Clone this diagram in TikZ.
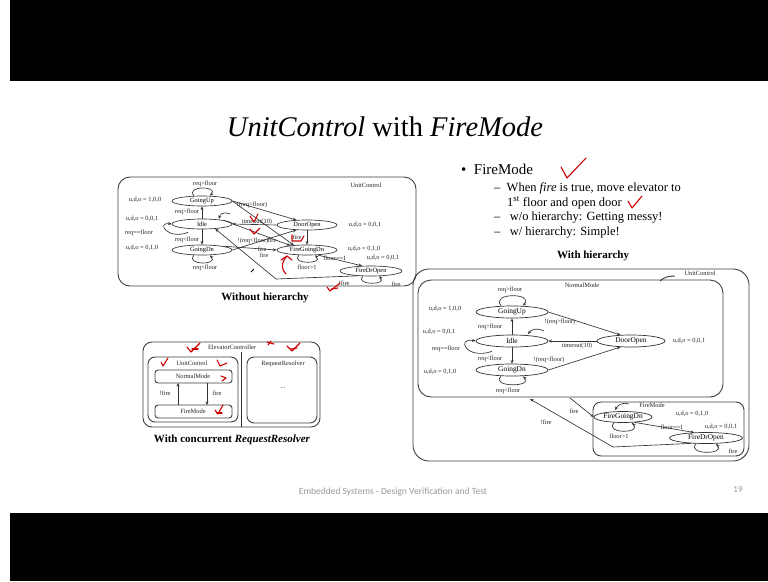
\documentclass[tikz,border=0pt]{standalone}
\usepackage{fontspec}
\setmainfont{Liberation Serif}
\newfontfamily\footfont{Carlito}
\usetikzlibrary{shapes.geometric,arrows.meta}
\begin{document}
\begin{tikzpicture}[x=1pt,y=-1pt,
  ln/.style={draw=black!80,line width=0.65pt},
  arr/.style={ln,-{Stealth[length=3.6pt,width=3pt]}},
  stL/.style={draw=black!80,line width=0.65pt,ellipse,inner sep=0pt,minimum width=60pt,minimum height=10pt,font=\fontsize{6.4}{7}\selectfont},
  stR/.style={draw=black!80,line width=0.7pt,ellipse,inner sep=0pt,minimum width=72pt,minimum height=12pt,font=\fontsize{7.4}{8}\selectfont},
  lbl/.style={inner sep=0pt,font=\fontsize{6.4}{7}\selectfont,text=black!85},
  boxln/.style={draw=black!75,line width=0.9pt},
  redmark/.style={draw=red!80!black,line width=1.1pt,line cap=round,line join=round},
  captxt/.style={inner sep=0pt,font=\fontsize{11}{12}\selectfont\bfseries}]
\useasboundingbox (0,0) rectangle (768,581);
\fill[white] (0,0) rectangle (768,581);
\fill[black] (10,0) rectangle (768,81);
\fill[black] (10,513) rectangle (768,581);
% title
\node[inner sep=0pt,font=\fontsize{28.5}{30}\selectfont] (title) at (385,127) {\textit{UnitControl} with \textit{FireMode}};
% bullets
\node[inner sep=0pt,anchor=west,font=\fontsize{15}{16}\selectfont] (b1) at (461,169) {\textbullet\ \ FireMode};
\node[inner sep=0pt,anchor=west,font=\fontsize{12.5}{13}\selectfont] (b2) at (494,188) {\textendash\ \ When \textit{fire} is true, move elevator to};
\node[inner sep=0pt,anchor=west,font=\fontsize{12.5}{13}\selectfont] (b3) at (507,203) {1\textsuperscript{st} floor and open door};
\node[inner sep=0pt,anchor=west,font=\fontsize{12.5}{13}\selectfont] (b4) at (494,218) {\textendash\ \ \ w/o hierarchy: Getting messy!};
\node[inner sep=0pt,anchor=west,font=\fontsize{12.5}{13}\selectfont] (b5) at (494,233) {\textendash\ \ \ w/ hierarchy: Simple!};
\node[captxt] (capR) at (593,256) {With hierarchy};
% ================= left: without hierarchy =================
\draw[boxln,rounded corners=12pt] (118,177) rectangle (416,286);
\node[lbl] (lUC) at (366,185) {UnitControl};
\node[stL] (LU) at (202,201) {GoingUp};
\node[stL] (LI) at (202,224) {Idle};
\node[stL] (LD) at (202,250) {GoingDn};
\node[stL] (LO) at (307,225) {DoorOpen};
\node[stL] (LF) at (307,250) {FireGoingDn};
\node[stL,minimum width=62pt] (LR) at (371,271) {FireDrOpen};
% self loops
\draw[arr] ([xshift=-8pt]LU.north) .. controls +(-9,-10) and +(9,-10) .. ([xshift=8pt]LU.north);
\draw[arr] ([xshift=-8pt]LD.south) .. controls +(-9,10) and +(9,10) .. ([xshift=8pt]LD.south);
\draw[arr] ([xshift=-14pt,yshift=-3pt]LI.south) .. controls +(-20,8) and +(-16,-2) .. (LI.west);
\draw[arr] ([xshift=-8pt]LF.south) .. controls +(-9,9) and +(9,9) .. ([xshift=8pt]LF.south);
\draw[arr] ([xshift=-8pt]LR.south) .. controls +(-9,9) and +(9,9) .. ([xshift=8pt]LR.south);
\draw[arr] (LI) -- (LU);
\draw[arr] (LI) -- (LD);
\draw[arr] (LU.east) -- (LO.155);
\draw[arr] (LU.east) -- (LF.160);
\draw[arr] (LO.west) -- (LI.east);
\draw[arr] (LI.10) -- (LF.165);
\draw[arr] (LD.east) -- (LO.205);
\draw[arr] (LD.10) -- (LF.180);
\draw[arr] (LO) -- (LF);
\draw[arr] (LF.-25) -- (LR.150);
\coordinate (lbend) at (276,279);
\draw[arr] (LR.200) -- (lbend) -- (LI.-20);
% default arrow into idle
\draw[arr] (230,214) .. controls (222,211) and (220,215) .. (219,219);
% labels
\node[lbl] at (205,184) {req>floor};
\node[lbl] at (145,200) {u,d,o = 1,0,0};
\node[lbl] at (187,212) {req>floor};
\node[lbl] at (142,219) {u,d,o = 0,0,1};
\node[lbl] at (139,233) {req==floor};
\node[lbl] at (187,240) {req<floor};
\node[lbl] at (142,248) {u,d,o = 0,1,0};
\node[lbl] at (205,268) {req<floor};
\node[lbl] at (252,205) {!(req>floor)};
\node[lbl] at (257,222) {timeout(10)};
\node[lbl] at (253,241) {!(req<floor)};
\node[lbl] at (365,225) {u,d,o = 0,0,1};
\node[lbl] at (297,237) {fire};
\node[lbl] at (272,240) {fire};
\node[lbl] at (262,249) {fire};
\node[lbl] at (264,255) {fire};
\node[lbl] at (364,249) {u,d,o = 0,1,0};
\node[lbl] at (335,258) {floor==1};
\node[lbl] at (383,258) {u,d,o = 0,0,1};
\node[lbl] at (307,267) {floor>1};
\node[lbl] at (344,283) {!fire};
\node[lbl] at (396,284) {fire};
\node[captxt] (capL) at (265,298) {Without hierarchy};
% ================= bottom left: concurrent =================
\draw[boxln,rounded corners=9pt] (143,342) rectangle (320,427);
\node[lbl] (lEC) at (232,347) {ElevatorController};
\draw[ln] (241,352) -- (241,427);
\draw[boxln,rounded corners=7pt] (148,357) rectangle (238,422);
\node[lbl] (lUC2) at (192,363) {UnitControl};
\draw[boxln,rounded corners=3pt] (155,370) rectangle (232,383);
\node[lbl] (NM) at (193,376) {NormalMode};
\draw[boxln,rounded corners=3pt] (155,405) rectangle (232,418);
\node[lbl] (FM) at (193,411) {FireMode};
\coordinate (fa1) at (178,405); \coordinate (fa2) at (178,383);
\coordinate (fb1) at (207,383); \coordinate (fb2) at (207,405);
\draw[arr] (fa1) -- (fa2);
\draw[arr] (fb1) -- (fb2);
\node[lbl] at (165,393) {!fire};
\node[lbl] at (217,393) {fire};
\draw[boxln,rounded corners=7pt] (247,357) rectangle (317,423);
\node[lbl] (RRes) at (283,364) {RequestResolver};
\node[lbl] at (283,388) {...};
\node[captxt] (capC) at (232,440) {With concurrent \textit{RequestResolver}};
% ================= right: with hierarchy =================
\draw[boxln,rounded corners=16pt] (413,269) rectangle (749,461);
\node[lbl] (rUC) at (700,273) {UnitControl};
\draw[ln,line width=0.9pt] (660,281) .. controls (664,277) and (669,276) .. (675,276);
\draw[boxln,rounded corners=13pt] (418,280) rectangle (723,397);
\node[lbl] (rNM) at (582,285) {NormalMode};
\draw[boxln,rounded corners=8pt] (593,402) rectangle (744,456);
\node[lbl] (rFM) at (652,405) {FireMode};
\node[stR] (RU) at (512,312) {GoingUp};
\node[stR] (RI) at (512,341) {Idle};
\node[stR] (RD) at (512,370) {GoingDn};
\node[stR,minimum width=68pt] (RO) at (631,341) {DoorOpen};
\node[stR,minimum width=58pt,minimum height=11pt] (RF) at (623,417) {FireGoingDn};
\node[stR,minimum width=73pt,minimum height=11pt] (RR) at (706,438) {FireDrOpen};
\draw[arr] ([xshift=-11pt]RU.north) .. controls +(-11,-13) and +(11,-13) .. ([xshift=11pt]RU.north);
\draw[arr] ([xshift=-11pt]RD.south) .. controls +(-11,11) and +(11,11) .. ([xshift=11pt]RD.south);
\draw[arr] ([xshift=-20pt,yshift=-4pt]RI.south) .. controls +(-26,9) and +(-20,-4) .. (RI.west);
\draw[arr] ([xshift=-9pt]RF.south) .. controls +(-10,11) and +(10,11) .. ([xshift=9pt]RF.south);
\draw[arr] ([xshift=-10pt]RR.south) .. controls +(-10,11) and +(10,11) .. ([xshift=10pt]RR.south);
\draw[arr] (RI) -- (RU);
\draw[arr] (RI) -- (RD);
\draw[arr] (RU.east) -- (RO.150);
\draw[arr] (RO.west) -- (RI.east);
\draw[arr] (RD.east) -- (RO.210);
\draw[arr] (RF.-25) -- (RR.155);
\draw[arr] (544,331) .. controls (536,327) and (531,330) .. (528,334);
\draw[arr] (629,404) .. controls (622,402) and (618,405) .. (615,410);
\coordinate (rfire) at (570,398);
\coordinate (rnfire1) at (613,447);
\coordinate (rnfire2) at (530,399);
\draw[arr] (rfire) -- (RF.west);
\draw[arr] (RR.200) -- (rnfire1) -- (rnfire2);
\node[lbl] at (510,290) {req>floor};
\node[lbl] at (445,309) {u,d,o = 1,0,0};
\node[lbl] at (490,327) {req>floor};
\node[lbl] at (439,332) {u,d,o = 0,0,1};
\node[lbl] at (446,349) {req==floor};
\node[lbl] at (490,359) {req<floor};
\node[lbl] at (440,372) {u,d,o = 0,1,0};
\node[lbl] at (508,391) {req<floor};
\node[lbl] at (560,322) {!(req>floor)};
\node[lbl] at (577,346) {timeout(10)};
\node[lbl] at (549,360) {!(req<floor)};
\node[lbl] at (689,341) {u,d,o = 0,0,1};
\node[lbl] at (574,411) {fire};
\node[lbl] at (546,422) {!fire};
\node[lbl] at (692,414) {u,d,o = 0,1,0};
\node[lbl] at (672,427) {floor==1};
\node[lbl] at (721,427) {u,d,o = 0,0,1};
\node[lbl] at (619,436) {floor>1};
\node[lbl] at (733,451) {fire};
% footer
\node[inner sep=0pt,font=\footfont\fontsize{9.5}{10}\selectfont,text=black!40] (foot) at (393,492) {Embedded Systems - Design Verification and Test};
\node[inner sep=0pt,font=\footfont\fontsize{9}{10}\selectfont,text=black!40] (pg) at (738,490) {19};
% red handwritten marks
\draw[redmark] (561,167) -- (567,178) -- (586,158);
\draw[redmark] (628,201) -- (632,208) -- (642,196);
\draw[redmark] (250,216) -- (254,222) -- (258,214);
\draw[redmark] (250,229) -- (254,234) -- (260,228);
\draw[redmark] (292,235) -- (292,241) -- (301,241) -- (304,236);
\draw[redmark] (287,256) .. controls (281,262) and (281,270) .. (286,274);
\draw[redmark] (281,260) -- (287,256) -- (292,260);
\draw[line width=0.8pt] (251,272) -- (254,269);
\draw[redmark] (327,287) -- (330,291) -- (340,283);
\draw[redmark] (331,289) -- (338,288);
% bottom-left red marks
\draw[redmark] (187,347) -- (191,352) -- (200,343);
\draw[redmark] (192,349) -- (198,349);
\draw[redmark] (267,342) -- (274,344);
\draw[redmark] (268,345) -- (271,341);
\draw[redmark] (287,346) -- (292,351) -- (300,343);
\draw[redmark] (291,349) -- (297,348);
\draw[redmark] (161,362) -- (163,366) -- (168,358);
\draw[redmark] (217,360) -- (220,366) -- (227,363);
\draw[redmark] (221,376) -- (226,378) -- (222,381);
\draw[redmark] (215,410) -- (218,414) -- (223,405);
\draw[redmark] (217,413) -- (222,413);
\end{tikzpicture}
\end{document}
